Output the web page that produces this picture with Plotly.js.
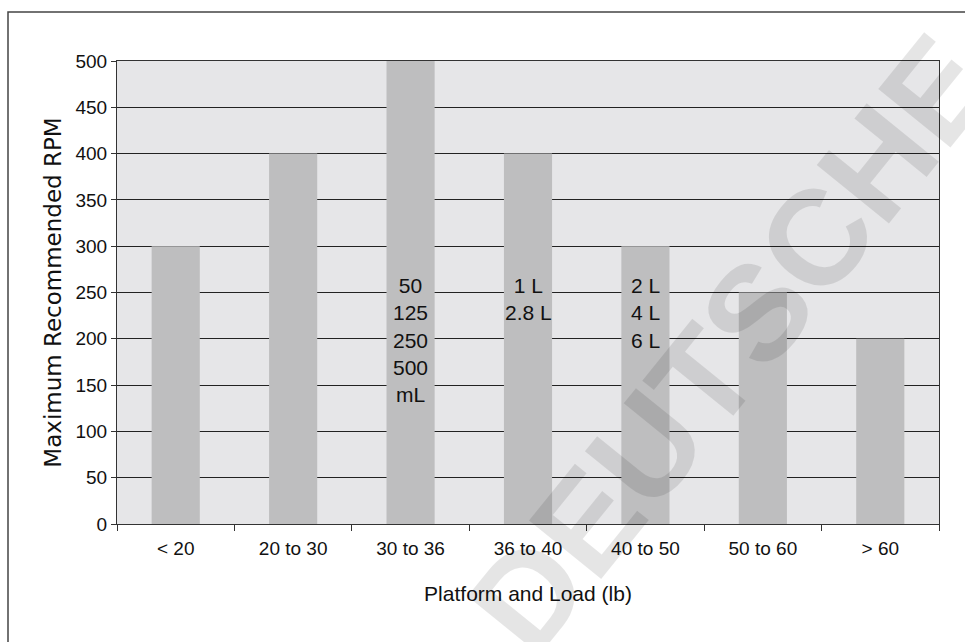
<!DOCTYPE html>
<html>
<head>
<meta charset="utf-8">
<script src="https://cdn.plot.ly/plotly-3.0.1.min.js"></script>
<style>html,body{margin:0;padding:0;background:#fff;}#chart{width:965px;height:642px;}</style>
</head>
<body>
<div id="chart"></div>
<script>
// Data
var categories = ["< 20", "20 to 30", "30 to 36", "36 to 40", "40 to 50", "50 to 60", "> 60"];
var maxRPM = [300, 400, 500, 400, 300, 250, 200];
var labelCategories = ["30 to 36", "36 to 40", "40 to 50"];
var labelTexts = ["50<br>125<br>250<br>500<br>mL", "1 L<br>2.8 L", "2 L<br>4 L<br>6 L"];
var labelY = 272;
var yTitle = "Maximum Recommended RPM";
var xTitle = "Platform and Load (lb)";
var watermark = "DEUTSCHE";

var tickFont = {family: "Liberation Sans, Arial, sans-serif", size: 19, color: "#111"};

var annotations = labelCategories.map(function (c, i) {
  return {
    x: c, y: labelY, xref: "x", yref: "y",
    text: labelTexts[i], showarrow: false,
    xanchor: "center", yanchor: "top", align: "center",
    font: {family: "Liberation Sans, Arial, sans-serif", size: 21, color: "#111"}
  };
});
annotations.push({
  x: 0.748, y: 0.39, xref: "paper", yref: "paper",
  text: watermark, showarrow: false, textangle: -51,
  xanchor: "center", yanchor: "middle",
  font: {family: "Liberation Sans, Arial, sans-serif", size: 135, color: "rgba(0,0,0,0.10)", weight: 700}
});

var trace = {
  type: "bar",
  x: categories,
  y: maxRPM,
  marker: {color: "#bebebf", line: {width: 0}},
  hoverinfo: "skip"
};

var layout = {
  width: 965, height: 642,
  margin: {l: 117, r: 26, t: 61, b: 118},
  paper_bgcolor: "#ffffff",
  plot_bgcolor: "#e6e6e8",
  bargap: 0.59,
  showlegend: false,
  xaxis: {
    type: "category",
    tickson: "boundaries",
    ticks: "outside", ticklen: 6, tickcolor: "#333", tickwidth: 1,
    ticklabelstandoff: 7,
    showline: true, linecolor: "#333", linewidth: 1, mirror: true,
    showgrid: false,
    tickfont: tickFont,
    automargin: false,
    title: {text: xTitle, font: {family: "Liberation Sans, Arial, sans-serif", size: 21, color: "#111"}, standoff: 28}
  },
  yaxis: {
    range: [0, 500], dtick: 50, tick0: 0,
    ticks: "outside", ticklen: 5, tickcolor: "#333", tickwidth: 1,
    showline: true, linecolor: "#333", linewidth: 1, mirror: true,
    showgrid: true, gridcolor: "#222", gridwidth: 1,
    zeroline: false,
    tickfont: tickFont,
    automargin: false,
    title: {text: yTitle, font: {family: "DejaVu Sans, sans-serif", size: 23, color: "#111"}, standoff: 7}
  },
  shapes: [{
    type: "rect", xref: "paper", yref: "paper",
    x0: -0.1326, x1: 1.2, y0: -0.4, y1: 1.1058,
    line: {color: "#444", width: 1.5}, fillcolor: "rgba(0,0,0,0)", layer: "above"
  }],
  annotations: annotations
};

Plotly.newPlot("chart", [trace], layout, {displayModeBar: false, staticPlot: true});
</script>
</body>
</html>
